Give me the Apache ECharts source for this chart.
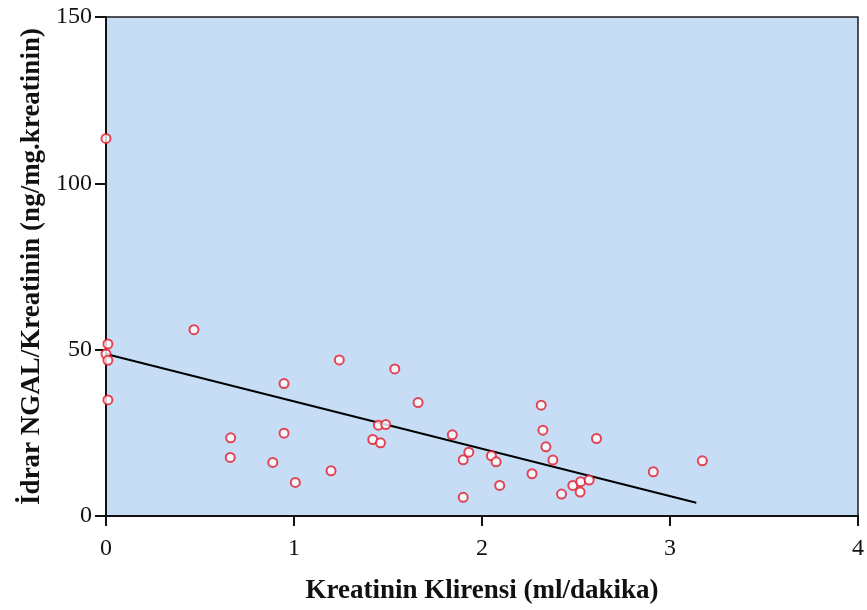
<!DOCTYPE html>
<html>
<head>
<meta charset="utf-8">
<script src="https://cdn.jsdelivr.net/npm/echarts@6/dist/echarts.min.js"></script>
<style>
  html, body { margin: 0; padding: 0; background: #ffffff; }
  #chart { width: 867px; height: 610px; }
</style>
</head>
<body>
<div id="chart"></div>
<script>
// Creatinine clearance (x) vs urinary NGAL/creatinine (y)
const clearance = [
  0, 0.01, 0, 0.01, 0.01,
  0.468, 0.663, 0.661, 0.887, 0.947, 0.947, 1.007, 1.197, 1.241,
  1.419, 1.449, 1.46, 1.488, 1.536, 1.66, 1.842,
  1.90, 1.93, 1.90, 2.05, 2.075, 2.094, 2.266, 2.315, 2.324, 2.34,
  2.377, 2.423, 2.483, 2.522, 2.525, 2.57, 2.609, 2.911, 3.172
];
const ngalRatio = [
  113.5, 51.7, 48.7, 46.8, 34.9,
  56.0, 23.5, 17.6, 16.1, 39.8, 24.9, 10.1, 13.6, 46.9,
  23.0, 27.3, 22.0, 27.5, 44.2, 34.1, 24.4,
  16.9, 19.2, 5.6, 18.1, 16.3, 9.2, 12.7, 33.3, 25.8, 20.8,
  16.8, 6.6, 9.2, 7.2, 10.3, 10.8, 23.3, 13.3, 16.6
];
// Linear fit line end points
const fitX = [0, 3.14];
const fitY = [48.7, 4.0];

const xTicks = [0, 1, 2, 3, 4];
const yTicks = [0, 50, 100, 150];

const points = clearance.map((x, i) => [x, ngalRatio[i]]);
const fitLine = fitX.map((x, i) => [x, fitY[i]]);

const serif = '"Liberation Serif", "DejaVu Serif", serif';
const chart = echarts.init(document.getElementById('chart'));
chart.setOption({
  animation: false,
  grid: {
    left: 106, right: 5, top: 17, bottom: 93,
    show: true,
    backgroundColor: '#c7ddf6',
    borderColor: '#1a1a1a',
    borderWidth: 1.5
  },
  xAxis: {
    type: 'value',
    min: xTicks[0], max: xTicks[xTicks.length - 1], interval: 1,
    name: 'Kreatinin Klirensi (ml/dakika)',
    nameLocation: 'middle',
    nameGap: 62,
    nameTextStyle: { fontFamily: serif, fontSize: 27, fontWeight: 'bold', color: '#111' },
    axisLine: { show: true, onZero: false, lineStyle: { color: '#111', width: 2 } },
    axisTick: { show: true, inside: false, length: 10, lineStyle: { color: '#111', width: 2 } },
    axisLabel: { fontFamily: serif, fontSize: 24, color: '#111', margin: 21 },
    splitLine: { show: false }
  },
  yAxis: {
    type: 'value',
    min: yTicks[0], max: yTicks[yTicks.length - 1], interval: 50,
    name: 'İdrar NGAL/Kreatinin (ng/mg.kreatinin)',
    nameLocation: 'middle',
    nameGap: 58,
    nameTextStyle: { fontFamily: serif, fontSize: 27, fontWeight: 'bold', color: '#111' },
    axisLine: { show: true, onZero: false, lineStyle: { color: '#111', width: 2 } },
    axisTick: { show: true, inside: false, length: 11, lineStyle: { color: '#111', width: 2 } },
    axisLabel: { fontFamily: serif, fontSize: 24, color: '#111', margin: 14 },
    splitLine: { show: false }
  },
  series: [
    {
      type: 'line',
      data: fitLine,
      symbol: 'none',
      lineStyle: { color: '#000', width: 2 },
      z: 2
    },
    {
      type: 'scatter',
      data: points,
      symbol: 'emptyCircle',
      symbolSize: 9,
      itemStyle: { color: '#e31b2c', borderColor: '#e31b2c', borderWidth: 1.8 },
      z: 3
    }
  ]
});
</script>
</body>
</html>
